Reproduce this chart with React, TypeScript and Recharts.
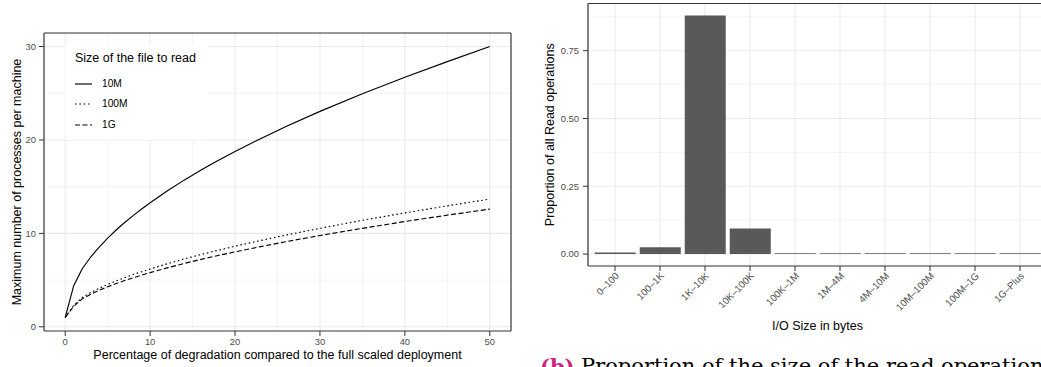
import React from 'react';
import {
  LineChart,
  Line,
  XAxis,
  YAxis,
  CartesianGrid,
  ReferenceLine,
  Legend,
  BarChart,
  Bar,
  Label,
} from 'recharts';

// ---------- Left panel data ----------
const degradation = [0, 1, 2, 3, 4, 5, 6, 7, 8, 9, 10, 12, 14, 16, 18, 20, 23, 26, 30, 35, 40, 45, 50];
const procs10M = [1, 4.4, 6.21, 7.47, 8.54, 9.49, 10.36, 11.16, 11.9, 12.61, 13.28, 14.54, 15.7, 16.78, 17.8, 18.77, 20.14, 21.44, 23.06, 24.95, 26.71, 28.39, 30.0];
const procs100M = [1, 2.3, 3.13, 3.67, 4.12, 4.54, 4.91, 5.26, 5.59, 5.9, 6.19, 6.74, 7.26, 7.74, 8.19, 8.63, 9.23, 9.82, 10.54, 11.4, 12.19, 12.95, 13.67];
const procs1G = [1, 2.2, 2.99, 3.48, 3.91, 4.28, 4.63, 4.95, 5.25, 5.53, 5.8, 6.31, 6.78, 7.22, 7.63, 8.02, 8.58, 9.11, 9.77, 10.54, 11.27, 11.95, 12.6];
const seriesKeys = ['s10M', 's100M', 's1G'];
const seriesNames = ['10M', '100M', '1G'];
const seriesDash = ['', '1.6 2.7', '5 2.5'];
const xMajor = [0, 10, 20, 30, 40, 50];
const xMinor = [5, 15, 25, 35, 45];
const yMajor = [0, 10, 20, 30];
const yMinor = [5, 15, 25];

// ---------- Right panel data ----------
const ioCategories = ['0–100', '100–1K', '1K–10K', '10K–100K', '100K–1M', '1M–4M', '4M–10M', '10M–100M', '100M–1G', '1G–Plus'];
const ioProportions = [0.006, 0.025, 0.88, 0.094, 0.003, 0.003, 0.003, 0.003, 0.003, 0.003];
const propMajor = [0, 0.25, 0.5, 0.75];
const propMinor = [0.125, 0.375, 0.625, 0.875];

const lineData = degradation.map((x, i) => ({
  x,
  s10M: procs10M[i],
  s100M: procs100M[i],
  s1G: procs1G[i],
}));

const barData = ioCategories.map((cat, i) => ({ cat, p: ioProportions[i] }));

const GRID = '#EBEBEB';
const DARK = '#333333';
const TICKTXT = '#4D4D4D';

const LegendBox = () => (
  <div
    style={{
      position: 'relative',
      width: 143,
      height: 95,
      background: '#fff',
      fontFamily: '"Liberation Sans", Arial, sans-serif',
    }}
  >
    <div style={{ position: 'absolute', left: 10, top: 5, fontSize: 12.5, color: '#000', whiteSpace: 'nowrap', lineHeight: '16px' }}>
      Size of the file to read
    </div>
    {seriesNames.map((n, i) => (
      <div key={n} style={{ position: 'absolute', left: 0, top: 31.5 + i * 20.5, height: 14, width: 143 }}>
        <svg width={30} height={14} style={{ position: 'absolute', left: 8, top: 0 }}>
          <line x1={2} y1={7} x2={19} y2={7} stroke="#000" strokeWidth={1.15} strokeDasharray={seriesDash[i] || undefined} />
        </svg>
        <span style={{ position: 'absolute', left: 37, top: 0, fontSize: 10.2, lineHeight: '14px', color: '#000' }}>{n}</span>
      </div>
    ))}
  </div>
);

const RotTick = (props: any) => {
  const { x, y, payload } = props;
  return (
    <g transform={`translate(${x + 4.7},${y + 3.5})`}>
      <text x={0} y={0} textAnchor="end" transform="rotate(-45)" fontSize={9.8} fill={TICKTXT}>
        {payload.value}
      </text>
    </g>
  );
};

export default function App() {
  return (
    <div
      style={{
        position: 'relative',
        width: 1041,
        height: 367,
        overflow: 'hidden',
        background: '#fff',
        fontFamily: '"Liberation Sans", Arial, sans-serif',
      }}
    >
      <style>{`body{margin:0;}`}</style>
      <div style={{ position: 'absolute', left: 0, top: 0 }}>
        <LineChart width={530} height={367} data={lineData} margin={{ top: 33, right: 19, bottom: 0, left: 0 }}>
          <CartesianGrid horizontalValues={yMinor} verticalValues={xMinor} stroke={GRID} strokeWidth={0.55} />
          <CartesianGrid horizontalValues={yMajor} verticalValues={xMajor} stroke={GRID} strokeWidth={1.1} />
          <XAxis
            type="number"
            dataKey="x"
            domain={[-2.5, 52.5]}
            ticks={xMajor}
            allowDataOverflow
            height={36}
            tickSize={5}
            tickMargin={2}
            axisLine={{ stroke: DARK, strokeWidth: 1.2 }}
            tickLine={{ stroke: DARK }}
            tick={{ fill: TICKTXT, fontSize: 9.4 }}
          >
            <Label
              value="Percentage of degradation compared to the full scaled deployment"
              position="insideBottom"
              offset={8}
              style={{ fontSize: 12.5, fill: '#000' }}
            />
          </XAxis>
          <YAxis
            type="number"
            domain={[-0.45, 31.45]}
            ticks={yMajor}
            allowDataOverflow
            width={44}
            tickSize={5}
            tickMargin={3}
            axisLine={{ stroke: DARK, strokeWidth: 1.2 }}
            tickLine={{ stroke: DARK }}
            tick={{ fill: TICKTXT, fontSize: 9.4 }}
          >
            <Label
              value="Maximum number of processes per machine"
              angle={-90}
              position="insideLeft"
              offset={16.5}
              style={{ fontSize: 12.5, fill: '#000', textAnchor: 'middle' }}
            />
          </YAxis>
          <ReferenceLine y={31.45} stroke={DARK} strokeWidth={1.2} />
          <ReferenceLine x={52.5} stroke={DARK} strokeWidth={1.2} />
          {seriesKeys.map((k, i) => (
            <Line
              key={k}
              dataKey={k}
              name={seriesNames[i]}
              type="linear"
              stroke="#000"
              strokeWidth={1.15}
              strokeDasharray={seriesDash[i] || undefined}
              dot={false}
              activeDot={false}
              isAnimationActive={false}
            />
          ))}
          <Legend
            verticalAlign="middle"
            align="center"
            layout="horizontal"
            wrapperStyle={{ left: 65, top: 45, width: 143, height: 95 }}
            content={() => <LegendBox />}
          />
        </LineChart>
      </div>
      <div style={{ position: 'absolute', left: 530, top: 0 }}>
        <BarChart width={517} height={367} data={barData} margin={{ top: 3.5, right: 0, bottom: 0, left: 0 }} barCategoryGap="5%">
          <CartesianGrid horizontalValues={propMinor} vertical={false} stroke={GRID} strokeWidth={0.55} />
          <CartesianGrid horizontalValues={propMajor} stroke={GRID} strokeWidth={1.1} />
          <XAxis
            dataKey="cat"
            type="category"
            height={101}
            interval={0}
            padding={{ left: 4.5, right: 4.5 }}
            tickSize={5}
            tickMargin={2}
            axisLine={{ stroke: DARK, strokeWidth: 1.2 }}
            tickLine={{ stroke: DARK }}
            tick={<RotTick />}
          >
            <Label value="I/O Size in bytes" position="insideBottom" offset={37} style={{ fontSize: 12.5, fill: '#000' }} />
          </XAxis>
          <YAxis
            type="number"
            domain={[-0.044, 0.924]}
            ticks={propMajor}
            allowDataOverflow
            width={58}
            tickSize={5}
            tickMargin={4}
            tickFormatter={(v: number) => v.toFixed(2)}
            axisLine={{ stroke: DARK, strokeWidth: 1.2 }}
            tickLine={{ stroke: DARK }}
            tick={{ fill: TICKTXT, fontSize: 9.4 }}
          >
            <Label
              value="Proportion of all Read operations"
              angle={-90}
              position="insideLeft"
              offset={19.5}
              style={{ fontSize: 12.5, fill: '#000', textAnchor: 'middle' }}
            />
          </YAxis>
          <ReferenceLine y={0.924} stroke={DARK} strokeWidth={1.2} />
          <Bar dataKey="p" fill="#595959" isAnimationActive={false} />
        </BarChart>
      </div>
      <div
        style={{
          position: 'absolute',
          left: 540,
          top: 356,
          whiteSpace: 'nowrap',
          fontFamily: '"DejaVu Serif", "Liberation Serif", serif',
          fontSize: 21,
          lineHeight: 1,
          color: '#000',
        }}
      >
        <span style={{ color: '#C8287E', fontWeight: 'bold' }}>(b)</span>
        <span style={{ position: 'absolute', left: 41, top: 0 }}>Proportion of the size of the read operation</span>
      </div>
    </div>
  );
}
